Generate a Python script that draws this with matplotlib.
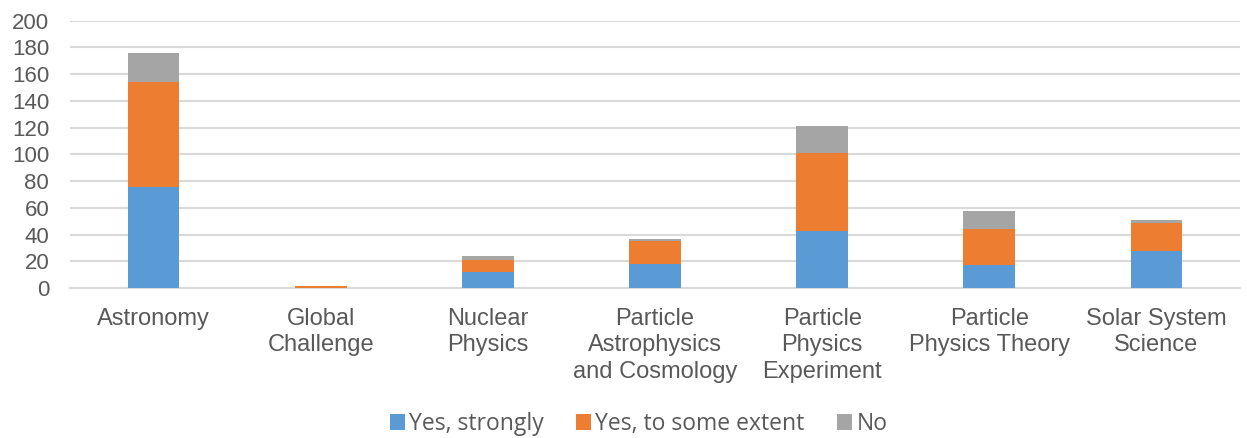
import numpy as np
import matplotlib
matplotlib.use("Agg")
import matplotlib.pyplot as plt

categories = ["Astronomy", "Global\nChallenge", "Nuclear\nPhysics",
              "Particle\nAstrophysics\nand Cosmology", "Particle\nPhysics\nExperiment",
              "Particle\nPhysics Theory", "Solar System\nScience"]
yes_strongly = [76, 0, 12, 18, 43, 17, 28]
yes_some = [78, 2, 9, 17, 58, 27, 21]
no = [22, 0, 3, 2, 20, 14, 2]

series_names = ["Yes, strongly", "Yes, to some extent", "No"]
colors = ["#5B9BD5", "#ED7D31", "#A5A5A5"]

fig = plt.figure(figsize=(12.47, 4.38), dpi=100)
ax = fig.add_axes([70 / 1247, 0.342, 1170 / 1247, 0.611])

x = np.arange(len(categories))
w = 0.31
bottom = np.zeros(len(categories))
for vals, name, c in zip([yes_strongly, yes_some, no], series_names, colors):
    ax.bar(x, vals, w, bottom=bottom, color=c, label=name, zorder=3)
    bottom += np.array(vals)

ax.set_xlim(-0.5, len(categories) - 0.5)
ax.set_ylim(0, 200)
ax.set_yticks(range(0, 201, 20))
ax.yaxis.grid(True, color="#D9D9D9", linewidth=1.5, zorder=0)
for s in ["top", "right", "left"]:
    ax.spines[s].set_visible(False)
ax.spines["bottom"].set_color("#D9D9D9")
ax.spines["bottom"].set_linewidth(1.5)
ax.tick_params(axis="both", length=0, labelcolor="#595959")
ax.tick_params(axis="x", pad=14.5, labelsize=17)
ax.tick_params(axis="y", pad=15, labelsize=16)
ax.set_xticks(x)
ax.set_xticklabels(categories, fontfamily="Liberation Sans", linespacing=1.24, va="top")
for lab in ax.get_yticklabels():
    lab.set_fontfamily("Liberation Sans")

fig.legend(*ax.get_legend_handles_labels(), loc="center", bbox_to_anchor=(0.512, 0.032),
           ncol=3, frameon=False, handlelength=0.67, handleheight=0.67,
           handletextpad=0.18, columnspacing=1.4, labelcolor="#595959",
           borderpad=0.1, prop={"family": ["Open Sans", "DejaVu Sans"], "size": 16.5})

fig.savefig("out.png", dpi=100)
